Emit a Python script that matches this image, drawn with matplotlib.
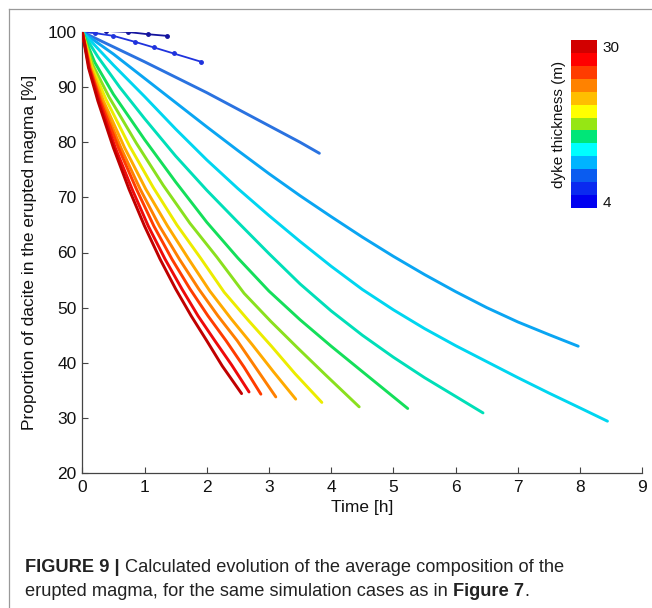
import matplotlib
matplotlib.use("Agg")
import numpy as np
import matplotlib.pyplot as plt
from matplotlib.colors import ListedColormap, BoundaryNorm
from matplotlib.cm import ScalarMappable
from matplotlib.lines import Line2D

plt.rcParams['font.family'] = ['Liberation Sans', 'DejaVu Sans']

# dyke thickness of each simulated case (m)
thickness = [4, 6, 8, 10, 12, 14, 16, 18, 20, 22, 24, 26, 28, 30]

# time (h) and proportion of dacite in the erupted magma (%) for each case
time_04 = [0, 0.38, 0.73, 1.05, 1.36]
dacite_04 = [100, 100.2, 100.0, 99.6, 99.3]

time_06 = [0, 0.2, 0.5, 0.85, 1.15, 1.47, 1.91]
dacite_06 = [100, 99.8, 99.3, 98.2, 97.2, 96.1, 94.6]

time_08 = [0, 0.5, 1, 1.5, 2, 2.5, 3, 3.5, 3.81]
dacite_08 = [100, 97.3, 94.6, 91.8, 89.0, 86.0, 83.0, 80.0, 78.0]

time_10 = [0, 0.5, 1, 1.5, 2, 2.5, 3, 3.5, 4, 4.5, 5, 5.5, 6, 6.5, 7, 7.5, 7.97]
dacite_10 = [100, 96, 91.6, 87.2, 82.8, 78.5, 74.3, 70.3, 66.5, 62.8, 59.3, 56, 52.9, 50, 47.4, 45.1, 43.0]

time_12 = [0, 0.5, 1, 1.5, 2, 2.5, 3, 3.5, 4, 4.5, 5, 5.5, 6, 6.5, 7, 7.5, 8, 8.44]
dacite_12 = [100, 94, 88.3, 82.4, 76.8, 71.6, 66.7, 62, 57.5, 53.3, 49.6, 46.2, 43.1, 40.2, 37.3, 34.5, 31.8, 29.4]

time_14 = [0, 0.25, 0.6, 1, 1.5, 2, 2.5, 3, 3.5, 4, 4.5, 5, 5.5, 6, 6.44]
dacite_14 = [100, 95.5, 90, 84.3, 77.5, 71.3, 65.5, 59.8, 54.3, 49.4, 45.0, 41.0, 37.3, 33.9, 30.9]

time_16 = [0, 0.2, 0.5, 1, 1.5, 2, 2.5, 3, 3.5, 4, 4.5, 5.23]
dacite_16 = [100, 94.5, 88.7, 80.5, 72.8, 65.5, 59, 53, 47.8, 43, 38.4, 31.7]

time_18 = [0, 0.17, 0.43, 0.87, 1.3, 1.73, 2.16, 2.6, 3.03, 3.46, 3.9, 4.45]
dacite_18 = [100, 94, 88.2, 79.8, 72.2, 65.3, 59.2, 52.6, 47.5, 42.7, 37.9, 32.0]

time_20 = [0, 0.15, 0.38, 0.76, 1.14, 1.52, 1.9, 2.28, 2.66, 3.04, 3.42, 3.85]
dacite_20 = [100, 93.8, 87.8, 79.3, 71.8, 65, 59, 52.8, 47.8, 43.0, 38.0, 32.8]

time_22 = [0, 0.14, 0.34, 0.68, 1.02, 1.37, 1.71, 2.05, 2.39, 2.73, 3.07, 3.43]
dacite_22 = [100, 93.5, 87.5, 79, 71.5, 64.8, 58.8, 53.0, 48.0, 43.3, 38.4, 33.4]

time_24 = [0, 0.12, 0.31, 0.62, 0.93, 1.24, 1.56, 1.87, 2.18, 2.49, 2.8, 3.11]
dacite_24 = [100, 93.5, 87.5, 79, 71.5, 64.8, 58.8, 53.4, 48.5, 44, 38.9, 33.8]

time_26 = [0, 0.12, 0.29, 0.58, 0.87, 1.15, 1.44, 1.73, 2.02, 2.31, 2.6, 2.87]
dacite_26 = [100, 93.5, 87.5, 79, 71.5, 64.8, 58.8, 53.4, 48.5, 44, 39.2, 34.3]

time_28 = [0, 0.11, 0.27, 0.53, 0.8, 1.06, 1.33, 1.6, 1.86, 2.13, 2.4, 2.68]
dacite_28 = [100, 93.5, 87.5, 79, 71.5, 64.8, 58.8, 53.4, 48.5, 44, 39.6, 34.7]

time_30 = [0, 0.1, 0.25, 0.5, 0.75, 1.0, 1.25, 1.5, 1.75, 2.0, 2.25, 2.56]
dacite_30 = [100, 93.5, 87.5, 79, 71.5, 64.8, 58.8, 53.4, 48.5, 44, 39.4, 34.4]

x_ticks = [0, 1, 2, 3, 4, 5, 6, 7, 8, 9]
y_ticks = [20, 30, 40, 50, 60, 70, 80, 90, 100]
cbar_ticks = [4, 30]

series = [
    (time_04, dacite_04), (time_06, dacite_06), (time_08, dacite_08),
    (time_10, dacite_10), (time_12, dacite_12), (time_14, dacite_14),
    (time_16, dacite_16), (time_18, dacite_18), (time_20, dacite_20),
    (time_22, dacite_22), (time_24, dacite_24), (time_26, dacite_26),
    (time_28, dacite_28), (time_30, dacite_30),
]

line_colors = ['#14149e', '#1f33dd', '#2a72e0', '#0aa5f2', '#00d6f0', '#00dfb8',
               '#14df5a', '#8ae01e', '#ecec00', '#ffaa00', '#ff7f00', '#ff3c00',
               '#ee0a0a', '#c00000']

bar_colors = ['#0000f0', '#0a2af0', '#0a5cf0', '#00b4ff', '#00ffff', '#00e678',
              '#96e614', '#ffff00', '#ffbe00', '#ff8200', '#ff3c00', '#ff0000',
              '#d20000']

W, H = 652, 608
fig = plt.figure(figsize=(W / 100, H / 100), dpi=100)

ax_l, ax_r, ax_t, ax_b = 82.3, 642.3, 32.0, 473.0
ax = fig.add_axes([ax_l / W, 1 - ax_b / H, (ax_r - ax_l) / W, (ax_b - ax_t) / H])

for k, ((tt, vv), col) in enumerate(zip(series, line_colors)):
    if k < 2:
        ax.plot(tt, vv, color=col, lw=1.3, marker='.', ms=5, zorder=2 + k)
    else:
        ax.plot(tt, vv, color=col, lw=2.1, solid_joinstyle='round',
                solid_capstyle='round', zorder=2 + k)

ax.set_xlim(0, 9)
ax.set_ylim(20, 100)
ax.set_xticks(x_ticks)
ax.set_yticks(y_ticks)
for s in ('top', 'right'):
    ax.spines[s].set_visible(False)
for s in ('left', 'bottom'):
    ax.spines[s].set_color('#444444')
    ax.spines[s].set_linewidth(0.9)
ax.tick_params(direction='in', length=4, width=0.8, color='#444444',
               labelsize=12.5, labelcolor='#111111')
ax.tick_params(axis='x', pad=5)
ax.tick_params(axis='y', pad=4)
ax.set_xlabel('Time [h]', fontsize=12.5, color='#111111')
ax.set_ylabel('Proportion of dacite in the erupted magma [%]', fontsize=12.5,
              color='#111111')
ax.xaxis.set_label_coords(0.5, (ax_b - 500) / (ax_b - ax_t))
ax.yaxis.set_label_coords((37 - ax_l) / (ax_r - ax_l), 0.5)

# discrete thickness colour bar inside the plot area
cax = fig.add_axes([571 / W, 1 - 208 / H, 26 / W, 168 / H])
nb = len(bar_colors)
step = (cbar_ticks[1] - cbar_ticks[0]) / (nb - 1)
bounds = cbar_ticks[0] - step / 2 + step * np.arange(nb + 1)
sm = ScalarMappable(norm=BoundaryNorm(bounds, nb), cmap=ListedColormap(bar_colors))
cb = fig.colorbar(sm, cax=cax, ticks=cbar_ticks)
cb.outline.set_visible(False)
cax.minorticks_off()
cax.tick_params(which='both', length=0, labelsize=11, pad=4, labelcolor='#111111')
cb.set_label('dyke thickness (m)', fontsize=11, color='#111111')
cax.yaxis.set_label_position('left')
cax.yaxis.set_label_coords(-0.2, 0.5)

# caption under the plot
fig.canvas.draw()
rend = fig.canvas.get_renderer()
cap_x, line1_y, line2_y = 25, 572, 596
head = fig.text(cap_x / W, 1 - line1_y / H, 'FIGURE 9 | ', fontsize=12,
                fontweight='bold', va='baseline', color='#222222')
body1 = 'Calculated evolution of the average composition of the'
w_head = head.get_window_extent(rend).width
t1 = fig.text((cap_x + w_head) / W, 1 - line1_y / H, body1, fontsize=12,
              va='baseline', color='#222222')
w_total = w_head + t1.get_window_extent(rend).width
fs = 12 * 540 / w_total
head.set_fontsize(fs)
t1.set_fontsize(fs)
fig.canvas.draw()
w_head = head.get_window_extent(rend).width
t1.set_x((cap_x + w_head) / W)
t2 = fig.text(cap_x / W, 1 - line2_y / H,
              'erupted magma, for the same simulation cases as in ',
              fontsize=fs, va='baseline', color='#222222')
fig.canvas.draw()
w2 = t2.get_window_extent(rend).width
fig.text((cap_x + w2) / W, 1 - line2_y / H, 'Figure 7', fontsize=fs,
         fontweight='bold', va='baseline', color='#222222')
fig.canvas.draw()
w3 = fig.texts[-1].get_window_extent(rend).width
fig.text((cap_x + w2 + w3) / W, 1 - line2_y / H, '.', fontsize=fs,
         va='baseline', color='#222222')

# frame lines along the left and top edges
fig.add_artist(Line2D([8.5 / W, 8.5 / W], [0, 1 - 8.5 / H], transform=fig.transFigure,
                      color='#999999', lw=0.9))
fig.add_artist(Line2D([8.5 / W, 1], [1 - 8.5 / H, 1 - 8.5 / H], transform=fig.transFigure,
                      color='#999999', lw=0.9))

fig.savefig('out.png', dpi=100)
